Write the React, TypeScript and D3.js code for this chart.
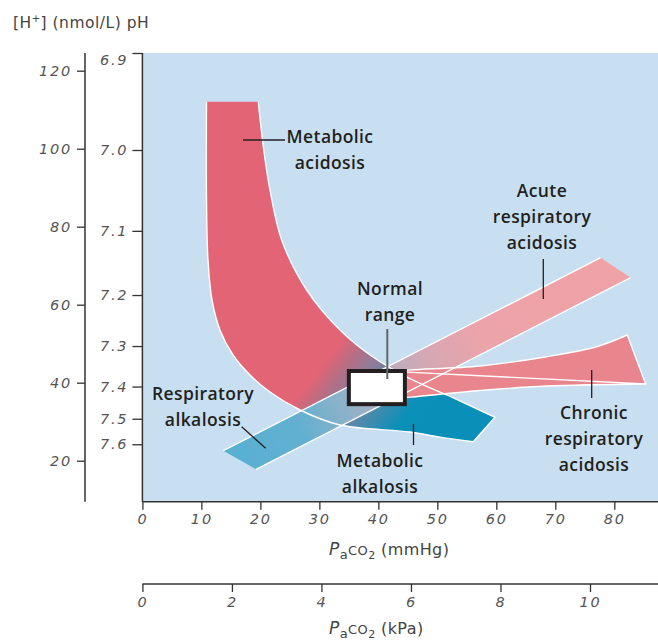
import * as d3 from 'd3'
import { useRef, useEffect } from 'react'

const WIDTH = 658
const HEIGHT = 643

// axis ticks
const mmHgTicks = [0, 10, 20, 30, 40, 50, 60, 70, 80]
const kPaTicks = [0, 2, 4, 6, 8, 10]
const hTicks = [20, 40, 60, 80, 100, 120]
const pHTicks = [6.9, 7.0, 7.1, 7.2, 7.3, 7.4, 7.5, 7.6]

// regions, points are [PaCO2 (mmHg), [H+] (nmol/L)]
const metabolicUpper = [
  [19.65, 112.05], [20.5, 100.5], [21.63, 89.41], [23.61, 76.59], [27.85, 63.77],
  [33.5, 53.51], [39.09, 46.59], [44.86, 41.46], [51.64, 36.85]
]
const metabolicTip = [[59.77, 31.13], [56.09, 24.87]]
const metabolicLower = [
  [56.09, 24.87], [50.45, 26.03], [45.36, 27.36], [33.5, 29.15], [26.72, 33.0],
  [21.63, 37.61], [18.24, 41.97], [15.36, 47.1], [13.15, 53.51], [11.8, 61.21],
  [11.12, 71.46], [10.87, 86.85], [10.87, 112.05]
]
const acuteUpper = [[13.71, 22.56], [77.69, 72.05]]
const acuteLower = [[19.26, 17.79], [82.78, 66.92]]
const chronicUpper = [
  [42.31, 42.9], [45.5, 43.3], [57.24, 44.3], [68.54, 46.67], [77.01, 49.23], [82.2, 52.23]
]
const chronicTip = [[85.32, 39.67]]
const chronicLower = [
  [85.32, 39.67], [68.54, 39.15], [57.24, 38.0], [45.5, 36.3], [42.31, 36.0]
]
const normalPaCO2 = [35, 44.5]
const normalH = [34.5, 43]

const labels = [
  { lines: ['Metabolic', 'acidosis'], x: 330, y: 143, lead: [243, 140, 285, 140] },
  { lines: ['Acute', 'respiratory', 'acidosis'], x: 542, y: 197, lead: [543.3, 259, 543.3, 299] },
  { lines: ['Normal', 'range'], x: 390, y: 295, lead: [387.3, 329, 387.3, 379] },
  { lines: ['Respiratory', 'alkalosis'], x: 203, y: 400, lead: [241.7, 426.7, 265.7, 448.3] },
  { lines: ['Metabolic', 'alkalosis'], x: 380, y: 467, lead: [413.5, 424, 413.5, 445] },
  { lines: ['Chronic', 'respiratory', 'acidosis'], x: 594, y: 419, lead: [591.7, 370, 591.7, 398] }
]

export default function App() {
  const svgRef = useRef(null)

  useEffect(() => {
    const svg = d3.select(svgRef.current)
    svg.selectAll('*').remove()

    const top = 53
    const bottom = 501.7
    const left = 142.4

    const x = d3.scaleLinear().domain([0, 80]).range([left, 614.3])
    const xk = d3.scaleLinear().domain([0, 10]).range([left, 590])
    const y = d3.scaleLinear().domain([20, 120]).range([460.7, 70.7])
    const yPH = d3.scaleLinear().domain([0, (543 - top) / 3.93]).range([543, top]).clamp(true)

    const defs = svg.append('defs')
    const metGrad = defs.append('linearGradient')
      .attr('id', 'metGrad').attr('gradientUnits', 'userSpaceOnUse')
      .attr('x1', 315).attr('y1', 340).attr('x2', 425).attr('y2', 425)
    ;[[0, '#e36474'], [0.15, '#e36474'], [0.3, '#b36f86'], [0.42, '#937b97'], [0.6, '#5689aa'], [0.85, '#0b90b8'], [1, '#0a90b8']]
      .forEach(([o, c]) => metGrad.append('stop').attr('offset', o).attr('stop-color', c))
    const acuteGrad = defs.append('linearGradient')
      .attr('id', 'acuteGrad').attr('gradientUnits', 'userSpaceOnUse')
      .attr('x1', 223).attr('y1', 450).attr('x2', 630).attr('y2', 277)
    ;[[0, '#58b0d3'], [0.18, '#62b0d1'], [0.29, '#8cb2c9'], [0.4, '#b4aec0'], [0.5, '#d4a8b4'], [0.63, '#eca3aa'], [1, '#f0a2a6']]
      .forEach(([o, c]) => acuteGrad.append('stop').attr('offset', o).attr('stop-color', c))

    // background
    svg.append('rect')
      .attr('x', left).attr('y', top)
      .attr('width', WIDTH - left).attr('height', bottom - top)
      .attr('fill', '#c8dff2')

    const curve = d3.line().x(d => x(d[0])).y(d => y(d[1])).curve(d3.curveCatmullRom.alpha(0.5))
    const straight = d3.line().x(d => x(d[0])).y(d => y(d[1]))
    const join = (...parts) => parts.map((p, i) => i === 0 ? p : p.replace(/^M/, 'L')).join('')

    const metOutline = join(curve(metabolicUpper), straight(metabolicTip), curve(metabolicLower))
    const chronicOutline = join(curve(chronicUpper), straight(chronicTip), curve(chronicLower))
    const acutePoly = [...acuteUpper, ...acuteLower.slice().reverse()]

    svg.append('path').attr('d', metOutline + 'Z').attr('fill', 'url(#metGrad)')
    svg.append('path').attr('d', straight(acutePoly) + 'Z').attr('fill', 'url(#acuteGrad)')
    svg.append('path').attr('d', chronicOutline + 'Z').attr('fill', '#e9858d')

    // white outlines
    const outlines = svg.append('g').attr('fill', 'none').attr('stroke', '#fff').attr('stroke-width', 1.4)
    outlines.append('path').attr('d', metOutline)
    outlines.append('path').attr('d', straight(acuteUpper))
    outlines.append('path').attr('d', straight(acuteLower))
    outlines.append('path').attr('d', chronicOutline)

    // normal range box
    svg.append('rect')
      .attr('x', x(normalPaCO2[0])).attr('y', y(normalH[1]))
      .attr('width', x(normalPaCO2[1]) - x(normalPaCO2[0]))
      .attr('height', y(normalH[0]) - y(normalH[1]))
      .attr('fill', '#fff').attr('stroke', '#231f20').attr('stroke-width', 4)

    // labels
    const lab = svg.append('g')
      .attr('font-family', '"Open Sans", sans-serif')
      .attr('font-weight', 600)
      .attr('font-size', 17.5)
      .attr('letter-spacing', 0.4)
      .attr('fill', '#231f20')
      .attr('text-anchor', 'middle')
    labels.forEach(l => {
      const t = lab.append('text').attr('x', l.x).attr('y', l.y)
      l.lines.forEach((s, i) => t.append('tspan').attr('x', l.x).attr('dy', i === 0 ? 0 : 26).text(s))
      svg.append('line')
        .attr('x1', l.lead[0]).attr('y1', l.lead[1]).attr('x2', l.lead[2]).attr('y2', l.lead[3])
        .attr('stroke', l.lines[0] === 'Normal' ? '#666' : '#231f20')
        .attr('stroke-width', l.lines[0] === 'Normal' ? 2 : 1.3)
    })

    // plot frame
    svg.append('line').attr('x1', left).attr('x2', left).attr('y1', top).attr('y2', bottom)
      .attr('stroke', '#333').attr('stroke-width', 1.5)
    svg.append('line').attr('x1', left).attr('x2', WIDTH).attr('y1', bottom).attr('y2', bottom)
      .attr('stroke', '#333').attr('stroke-width', 1.5)

    const styleAxis = g => {
      g.select('.domain').remove()
      g.selectAll('line').attr('stroke', '#333').attr('stroke-width', 1.3)
      g.selectAll('text')
        .attr('font-family', '"DejaVu Sans", sans-serif')
        .attr('font-style', 'oblique')
        .attr('font-size', 14.5)
        .attr('letter-spacing', 1.8)
        .attr('fill', '#555')
    }

    // PaCO2 mmHg
    svg.append('g').attr('transform', `translate(0,${bottom})`)
      .call(d3.axisBottom(x).tickValues(mmHgTicks).tickSize(8).tickPadding(4).tickFormat(d3.format('d')))
      .call(styleAxis)

    // PaCO2 kPa
    const kY = 584
    svg.append('line').attr('x1', left).attr('x2', WIDTH).attr('y1', kY).attr('y2', kY)
      .attr('stroke', '#333').attr('stroke-width', 1.5)
    svg.append('g').attr('transform', `translate(0,${kY})`)
      .call(d3.axisBottom(xk).tickValues(kPaTicks).tickSize(8).tickPadding(5).tickFormat(d3.format('d')))
      .call(styleAxis)

    // [H+] axis
    const hX = 85
    svg.append('line').attr('x1', hX).attr('x2', hX).attr('y1', top).attr('y2', bottom)
      .attr('stroke', '#333').attr('stroke-width', 1.5)
    svg.append('g').attr('transform', `translate(${hX},0)`)
      .call(d3.axisLeft(y).tickValues(hTicks).tickSize(8).tickPadding(5))
      .call(styleAxis)

    // pH axis
    const gPH = svg.append('g').attr('transform', `translate(${left},0)`)
      .call(d3.axisLeft(yPH)
        .tickValues(pHTicks.map(p => Math.pow(10, 9 - p)))
        .tickFormat(h => (9 - Math.log10(h)).toFixed(1))
        .tickSize(10).tickPadding(4))
      .call(styleAxis)
    gPH.selectAll('.tick').filter(h => h > yPH.domain()[1]).select('text').attr('dy', '0.8em')

    // titles
    const title = svg.append('text').attr('x', 13).attr('y', 28)
      .attr('font-family', '"DejaVu Sans", sans-serif').attr('font-size', 15.5)
      .attr('letter-spacing', 0.5).attr('fill', '#444')
    title.append('tspan').text('[H')
    title.append('tspan').attr('font-size', 10).attr('dy', -6).text('+')
    title.append('tspan').attr('dy', 6).text('] (nmol/L) pH')

    const axisTitle = (xPos, yPos, unit) => {
      const t = svg.append('text').attr('x', xPos).attr('y', yPos)
        .attr('font-family', '"DejaVu Sans", sans-serif').attr('font-size', 16)
        .attr('letter-spacing', 0.4).attr('fill', '#444')
      t.append('tspan').attr('font-style', 'oblique').attr('font-size', 17).text('P')
      t.append('tspan').attr('font-size', 13).attr('dy', 4).text('a')
      t.append('tspan').attr('font-size', 13).attr('dy', -4).text('CO')
      t.append('tspan').attr('font-size', 11).attr('dy', 4).text('2')
      t.append('tspan').attr('dy', -4).text(` (${unit})`)
    }
    axisTitle(329, 555, 'mmHg')
    axisTitle(329, 634, 'kPa')
  }, [])

  return (
    <svg ref={svgRef} width={WIDTH} height={HEIGHT} style={{ display: 'block', position: 'absolute', left: 0, top: 0 }}></svg>
  )
}
